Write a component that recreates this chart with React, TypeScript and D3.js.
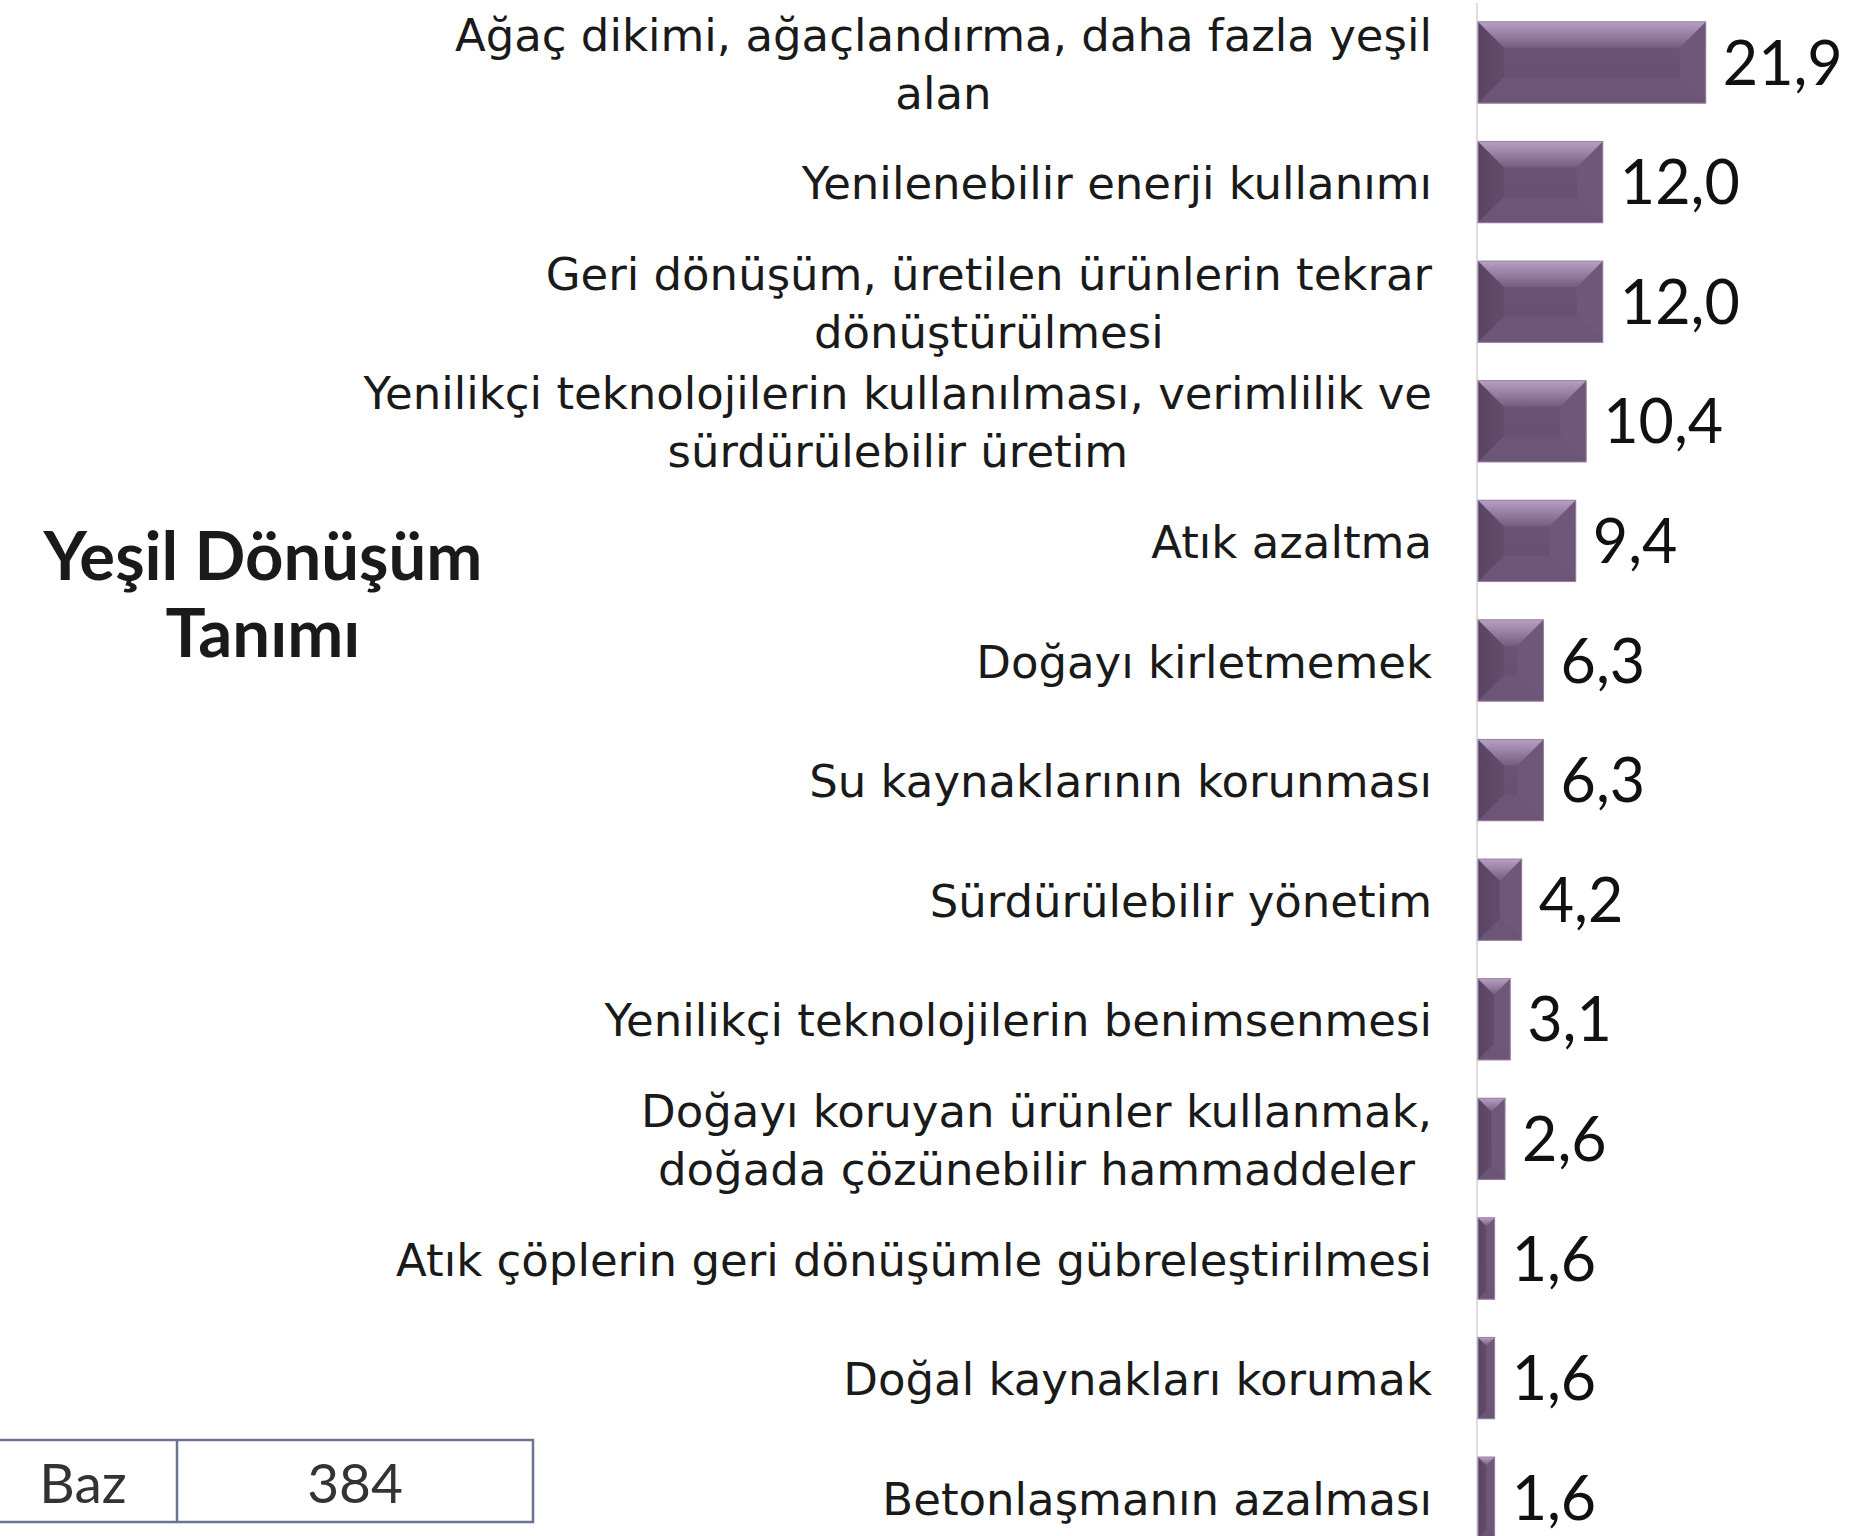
import React, { useEffect, useRef } from "react";
import * as d3 from "d3";

// Yeşil dönüşüm tanımı - yüzde dağılımı
const categories = [
  "Ağaç dikimi, ağaçlandırma, daha fazla yeşil\nalan",
  "Yenilenebilir enerji kullanımı",
  "Geri dönüşüm, üretilen ürünlerin tekrar\ndönüştürülmesi",
  "Yenilikçi teknolojilerin kullanılması, verimlilik ve\nsürdürülebilir üretim",
  "Atık azaltma",
  "Doğayı kirletmemek",
  "Su kaynaklarının korunması",
  "Sürdürülebilir yönetim",
  "Yenilikçi teknolojilerin benimsenmesi",
  "Doğayı koruyan ürünler kullanmak,\ndoğada çözünebilir hammaddeler",
  "Atık çöplerin geri dönüşümle gübreleştirilmesi",
  "Doğal kaynakları korumak",
  "Betonlaşmanın azalması",
];
const values = [21.9, 12.0, 12.0, 10.4, 9.4, 6.3, 6.3, 4.2, 3.1, 2.6, 1.6, 1.6, 1.6];
const titleLines = ["Yeşil Dönüşüm", "Tanımı"];
const baseLabel = "Baz";
const baseValue = "384";

const W = 1849;
const H = 1536;

export default function App() {
  const ref = useRef<SVGSVGElement>(null);

  useEffect(() => {
    document.body.style.margin = "0";
    const svg = d3.select(ref.current);
    svg.selectAll("*").remove();

    const axisX = 1477;
    const labelRight = 1432;

    const x = d3.scaleLinear().domain([0, 25]).range([axisX + 1, axisX + 1 + 260]);
    const y = d3
      .scaleBand()
      .domain(categories)
      .range([2.7, 1557.5])
      .paddingInner(0.32)
      .paddingOuter(0.16);

    const defs = svg.append("defs");
    const gTop = defs.append("linearGradient").attr("id", "bevTop").attr("x1", 0).attr("x2", 0).attr("y1", 0).attr("y2", 1);
    gTop.append("stop").attr("offset", "0%").attr("stop-color", "#b89fc4");
    gTop.append("stop").attr("offset", "100%").attr("stop-color", "#755d80");
    const gBody = defs.append("linearGradient").attr("id", "body").attr("x1", 0).attr("x2", 0).attr("y1", 0).attr("y2", 1);
    gBody.append("stop").attr("offset", "0%").attr("stop-color", "#6f5679");
    gBody.append("stop").attr("offset", "100%").attr("stop-color", "#664d70");
    const gLeft = defs.append("linearGradient").attr("id", "bevLeft").attr("x1", 0).attr("x2", 1).attr("y1", 0).attr("y2", 0);
    gLeft.append("stop").attr("offset", "0%").attr("stop-color", "#594462");
    gLeft.append("stop").attr("offset", "100%").attr("stop-color", "#634b6c");

    // axis line
    svg
      .append("line")
      .attr("x1", axisX)
      .attr("x2", axisX)
      .attr("y1", 3)
      .attr("y2", H)
      .attr("stroke", "#dfdbe5")
      .attr("stroke-width", 2);

    svg
      .append("g")
      .selectAll("g")
      .data(categories)
      .enter()
      .append("g")
      .each(function (c, i) {
        const g = d3.select(this);
        const x0 = x(0);
        const w = x(values[i]) - x0;
        const y0 = y(c)!;
        const h = y.bandwidth();
        const b = Math.min(26, w / 2, h / 2);
        const poly = (pts: number[][]) => pts.map((p) => p.join(",")).join(" ");
        g.append("rect").attr("x", x0).attr("y", y0).attr("width", w).attr("height", h).attr("fill", "url(#body)");
        g.append("polygon")
          .attr("points", poly([[x0, y0], [x0 + b, y0 + b], [x0 + b, y0 + h - b], [x0, y0 + h]]))
          .attr("fill", "url(#bevLeft)");
        g.append("polygon")
          .attr("points", poly([[x0 + w, y0], [x0 + w, y0 + h], [x0 + w - b, y0 + h - b], [x0 + w - b, y0 + b]]))
          .attr("fill", "#6f577a");
        g.append("polygon")
          .attr("points", poly([[x0, y0 + h], [x0 + b, y0 + h - b], [x0 + w - b, y0 + h - b], [x0 + w, y0 + h]]))
          .attr("fill", "#6d5578");
        g.append("polygon")
          .attr("points", poly([[x0, y0], [x0 + w, y0], [x0 + w - b, y0 + b], [x0 + b, y0 + b]]))
          .attr("fill", "url(#bevTop)");
        g.append("rect")
          .attr("x", x0)
          .attr("y", y0)
          .attr("width", w)
          .attr("height", h)
          .attr("fill", "none")
          .attr("stroke", "#9a82a4")
          .attr("stroke-width", 1);
      });

    // value labels
    svg
      .append("g")
      .selectAll("text")
      .data(categories)
      .enter()
      .append("text")
      .attr("x", (c, i) => x(values[i]) + 17)
      .attr("y", (c) => y(c)! + y.bandwidth() / 2 + 22)
      .attr("font-family", "Lato")
      .attr("font-size", 61)
      .attr("fill", "#111")
      .text((c, i) => d3.format(".1f")(values[i]).replace(".", ","));

    // category labels (block right aligned, lines centered)
    const lab = svg.append("g").attr("font-family", "DejaVu Sans").attr("font-size", 45).attr("fill", "#1a1a1a");
    categories.forEach((c) => {
      const lines = c.split("\n");
      const cy = y(c)! + y.bandwidth() / 2;
      const t = lab.append("text").attr("text-anchor", "middle");
      const spans = lines.map((ln, k) =>
        t
          .append("tspan")
          .attr("y", cy + 17 + (k - (lines.length - 1) / 2) * 58)
          .text(ln)
      );
      const maxW = d3.max(spans, (s) => (s.node() as SVGTSpanElement).getComputedTextLength()) || 0;
      spans.forEach((s) => s.attr("x", labelRight - maxW / 2));
    });

    // title
    const title = svg
      .append("text")
      .attr("text-anchor", "middle")
      .attr("font-family", "Lato")
      .attr("font-weight", 700)
      .attr("font-size", 67)
      .attr("fill", "#1a1a1a");
    titleLines.forEach((ln, k) => {
      title.append("tspan").attr("x", 263).attr("y", 580 + k * 77).text(ln);
    });

    // base box
    const box = svg.append("g");
    box.append("rect")
      .attr("x", -10)
      .attr("y", 1440)
      .attr("width", 543)
      .attr("height", 82)
      .attr("fill", "none")
      .attr("stroke", "#6b7391")
      .attr("stroke-width", 2.5);
    box.append("line")
      .attr("x1", 177)
      .attr("x2", 177)
      .attr("y1", 1440)
      .attr("y2", 1522)
      .attr("stroke", "#6b7391")
      .attr("stroke-width", 2.5);
    box.append("text")
      .attr("x", 83)
      .attr("y", 1503)
      .attr("text-anchor", "middle")
      .attr("font-family", "Lato")
      .attr("font-size", 55)
      .attr("fill", "#333")
      .text(baseLabel);
    box.append("text")
      .attr("x", 355)
      .attr("y", 1503)
      .attr("text-anchor", "middle")
      .attr("font-family", "Lato")
      .attr("font-size", 55)
      .attr("fill", "#333")
      .text(baseValue);
  }, []);

  return <svg ref={ref} width={W} height={H} style={{ display: "block", background: "#fff" }} />;
}
